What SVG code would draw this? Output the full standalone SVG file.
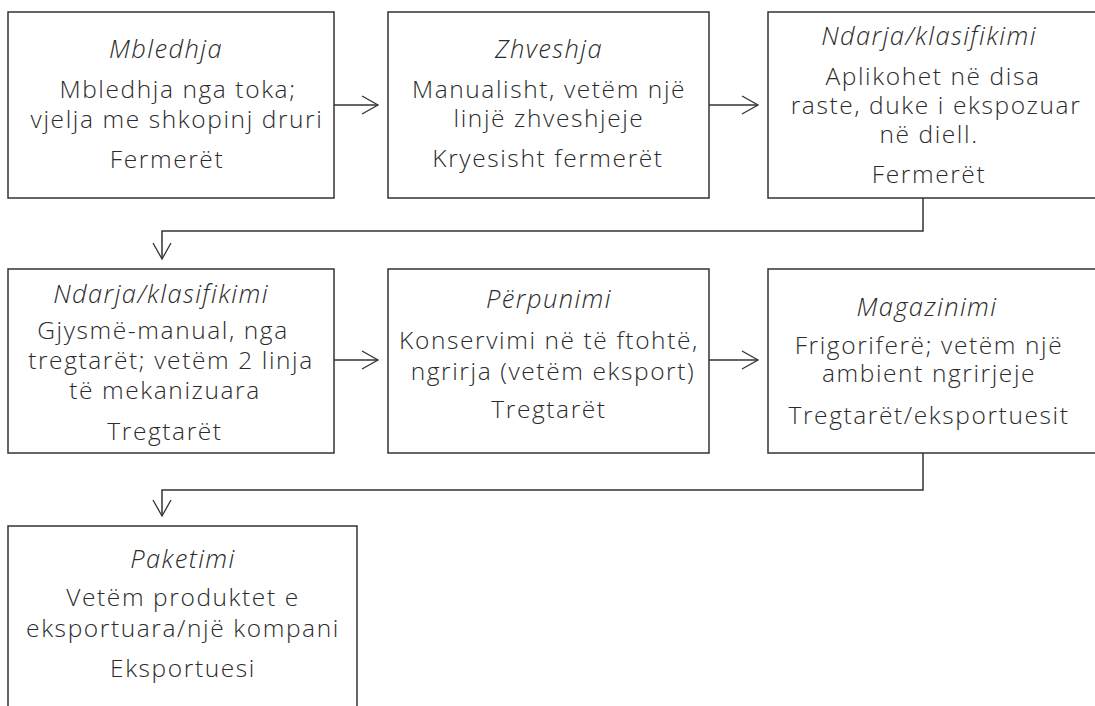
<svg xmlns="http://www.w3.org/2000/svg" width="1095" height="706" viewBox="0 0 1095 706">
<style>
.box{fill:#fff;stroke:#333;stroke-width:1.5}
.t{font-family:"Open Sans",Lato,"Liberation Sans",sans-serif;font-size:24.5px;font-weight:300;letter-spacing:1.6px;fill:#2b2b2b;text-anchor:middle}
.h{font-style:italic;font-size:25.5px;letter-spacing:1.4px}
.c{fill:none;stroke:#333;stroke-width:1.5}
</style>
<defs>
<marker id="ah" markerWidth="20" markerHeight="22" refX="17" refY="10" orient="auto" markerUnits="userSpaceOnUse">
<path d="M1,1 L17,10 L1,19" fill="none" stroke="#333" stroke-width="1.3"/>
</marker>
</defs>
<rect width="1095" height="706" fill="#fff"/>
<g id="connectors">
<line class="c" x1="334" y1="105" x2="378" y2="105" marker-end="url(#ah)"/>
<line class="c" x1="709" y1="105" x2="758" y2="105" marker-end="url(#ah)"/>
<polyline class="c" points="923,198 923,231 162,231 162,259" marker-end="url(#ah)"/>
<line class="c" x1="334" y1="360" x2="378" y2="360" marker-end="url(#ah)"/>
<line class="c" x1="709" y1="360" x2="758" y2="360" marker-end="url(#ah)"/>
<polyline class="c" points="923,453 923,490 162,490 162,516" marker-end="url(#ah)"/>
</g>
<g id="n1">
<rect class="box" x="8" y="12" width="326" height="186"/>
<text class="t h" x="166" y="58">Mbledhja</text>
<text class="t" x="178" y="98">Mbledhja nga toka;</text>
<text class="t" x="177" y="128">vjelja me shkopinj druri</text>
<text class="t" x="167" y="168">Fermerët</text>
</g>
<g id="n2">
<rect class="box" x="388" y="12" width="321" height="186"/>
<text class="t h" x="549" y="58">Zhveshja</text>
<text class="t" x="549" y="98">Manualisht, vetëm një</text>
<text class="t" x="549" y="127">linjë zhveshjeje</text>
<text class="t" x="548" y="167">Kryesisht fermerët</text>
</g>
<g id="n3">
<rect class="box" x="768" y="12" width="340" height="186"/>
<text class="t h" x="929" y="45">Ndarja/klasifikimi</text>
<text class="t" x="933" y="85">Aplikohet në disa</text>
<text class="t" x="936" y="114">raste, duke i ekspozuar</text>
<text class="t" x="929" y="143">në diell.</text>
<text class="t" x="929" y="183">Fermerët</text>
</g>
<g id="n4">
<rect class="box" x="8" y="269" width="326" height="184"/>
<text class="t h" x="161" y="303">Ndarja/klasifikimi</text>
<text class="t" x="163" y="339">Gjysmë-manual, nga</text>
<text class="t" x="171" y="369">tregtarët; vetëm 2 linja</text>
<text class="t" x="165" y="399">të mekanizuara</text>
<text class="t" x="165" y="440">Tregtarët</text>
</g>
<g id="n5">
<rect class="box" x="388" y="269" width="321" height="184"/>
<text class="t h" x="549" y="308">Përpunimi</text>
<text class="t" x="549" y="349">Konservimi në të ftohtë,</text>
<text class="t" x="553" y="380">ngrirja (vetëm eksport)</text>
<text class="t" x="549" y="418">Tregtarët</text>
</g>
<g id="n6">
<rect class="box" x="768" y="269" width="340" height="184"/>
<text class="t h" x="927" y="316">Magazinimi</text>
<text class="t" x="929" y="354">Frigoriferë; vetëm një</text>
<text class="t" x="929" y="382">ambient ngrirjeje</text>
<text class="t" x="929" y="424">Tregtarët/eksportuesit</text>
</g>
<g id="n7">
<rect class="box" x="8" y="526" width="349" height="200"/>
<text class="t h" x="183" y="568">Paketimi</text>
<text class="t" x="183" y="606">Vetëm produktet e</text>
<text class="t" x="183" y="637">eksportuara/një kompani</text>
<text class="t" x="183" y="677">Eksportuesi</text>
</g>
</svg>
